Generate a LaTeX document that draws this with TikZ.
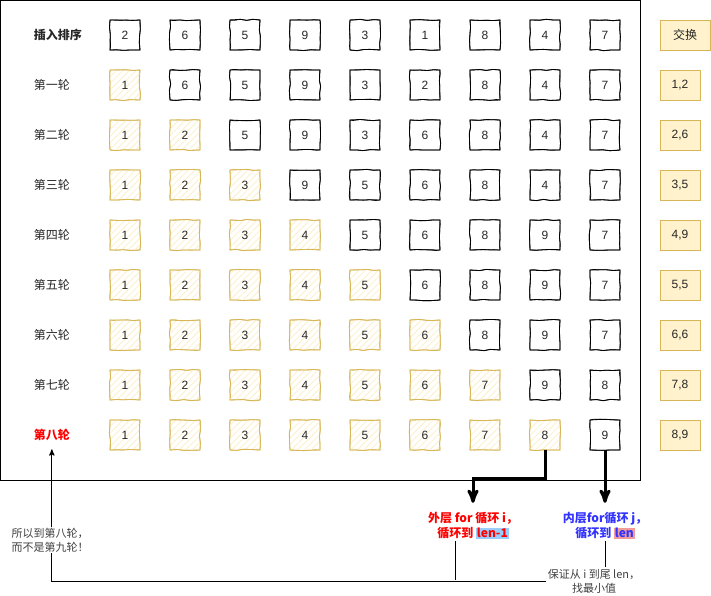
\documentclass[tikz,border=0pt]{standalone}
\usepackage{fontspec}
\setmainfont{Liberation Sans}
\newfontfamily\cjk{Noto Sans CJK SC}
\usetikzlibrary{arrows}
\usetikzlibrary{patterns.meta}
\usetikzlibrary{decorations.pathmorphing}
\usepackage{xcolor}
\setlength{\fboxsep}{0.5pt}

\definecolor{ybord}{HTML}{D6B656}
\definecolor{yfill}{HTML}{FFF2CC}
\definecolor{yhatch}{HTML}{FDEFC8}
\definecolor{outred}{HTML}{FF0000}
\definecolor{inblue}{HTML}{3333FF}
\definecolor{hlblue}{HTML}{99CCFF}
\definecolor{hlred}{HTML}{F19C99}

\tikzset{
  sketch/.style={decorate, decoration={random steps, segment length=5pt, amplitude=0.5pt}},
  cell/.style={minimum size=22.5pt, inner sep=0pt, text=black!85, font=\fontsize{9}{11}\selectfont,
    draw=#1, line width=0.65pt, sketch, preaction={draw=#1, line width=0.55pt, sketch}},
  todo/.style={cell=black},
  done/.style={cell=ybord, pattern={Lines[angle=45, distance=3.5pt, line width=0.6pt]}, pattern color=yhatch},
  lbl/.style={anchor=west, inner sep=1pt, text=black!85, font=\cjk\fontsize{9}{11}\selectfont},
  headlbl/.style={lbl, font=\cjk\bfseries\fontsize{9}{11}\selectfont},
  lastlbl/.style={headlbl, text=outred},
  swap/.style={draw=ybord, fill=yfill, line width=0.75pt, minimum width=30pt, minimum height=22.5pt,
    inner sep=0pt, text=black!85, font=\fontsize{9}{11}\selectfont},
  loopnote/.style={align=center, inner sep=1pt, font=\cjk\bfseries\fontsize{9}{11.25}\selectfont},
  note/.style={align=center, inner sep=1pt, text=black!75, font=\cjk\fontsize{8.25}{10.5}\selectfont},
  bigarrow/.style={line width=2.25pt, ->, >=stealth', shorten >=6pt},
}

\begin{document}
\begin{tikzpicture}[x=0.75pt, y=-0.75pt, line width=0.75pt]
\pgfmathsetseed{7}
\useasboundingbox (0,0) rectangle (711,596);
\draw (0.5,0.5) rectangle (640,480);

% 初始数组
\node[headlbl] (l0) at (32,35) {插入排序};
\foreach \v [count=\col] in {2,6,5,9,3,1,8,4,7}
  \node[todo] (b-0-\col) at (65+60*\col,35) {\v};
\node[swap, minimum width=37.5pt] (s0) at (685,35) {\cjk 交换};

% 每一轮: 前 \row 个已排好
\foreach \row/\lbl/\ls/\sw/\vals in {
  1/第一轮/lbl/{1,2}/{1,6,5,9,3,2,8,4,7},
  2/第二轮/lbl/{2,6}/{1,2,5,9,3,6,8,4,7},
  3/第三轮/lbl/{3,5}/{1,2,3,9,5,6,8,4,7},
  4/第四轮/lbl/{4,9}/{1,2,3,4,5,6,8,9,7},
  5/第五轮/lbl/{5,5}/{1,2,3,4,5,6,8,9,7},
  6/第六轮/lbl/{6,6}/{1,2,3,4,5,6,8,9,7},
  7/第七轮/lbl/{7,8}/{1,2,3,4,5,6,7,9,8},
  8/第八轮/lastlbl/{8,9}/{1,2,3,4,5,6,7,8,9}}
{
  \node[\ls] (l\row) at (32,35+50*\row) {\lbl};
  \foreach \v [count=\col] in \vals {
    \ifnum\col>\row \def\sty{todo}\else\def\sty{done}\fi
    \node[\sty] (b-\row-\col) at (65+60*\col,35+50*\row) {\v};
  }
  \node[swap] (s\row) at (680,35+50*\row) {\sw};
}

% 说明
\node[loopnote, text=outred] (outer) at (473,526) {外层 for 循环 i，\\循环到 \colorbox{hlblue}{len-1}};
\node[loopnote, text=inblue] (inner) at (605,526) {内层for循环 j，\\循环到 \colorbox{hlred}{len}};
\node[note] (hint) at (594,581) {保证从 i 到尾 len，\\找最小值};
\coordinate (join) at (455,580);

\draw[bigarrow] (b-8-8.south) -- ++(0,28) -| (outer.north);
\draw[bigarrow] (b-8-9.south) -- (inner.north);
\draw (outer.south -| join) -- (join);
\draw (inner.south) -- (inner.south |- hint.north);
\draw[->, >=stealth', shorten >=5pt] (hint.west) -| (l8.south);
\node[note, fill=white] (why) at (50,540) {所以到第八轮，\\而不是第九轮！};
\end{tikzpicture}
\end{document}
